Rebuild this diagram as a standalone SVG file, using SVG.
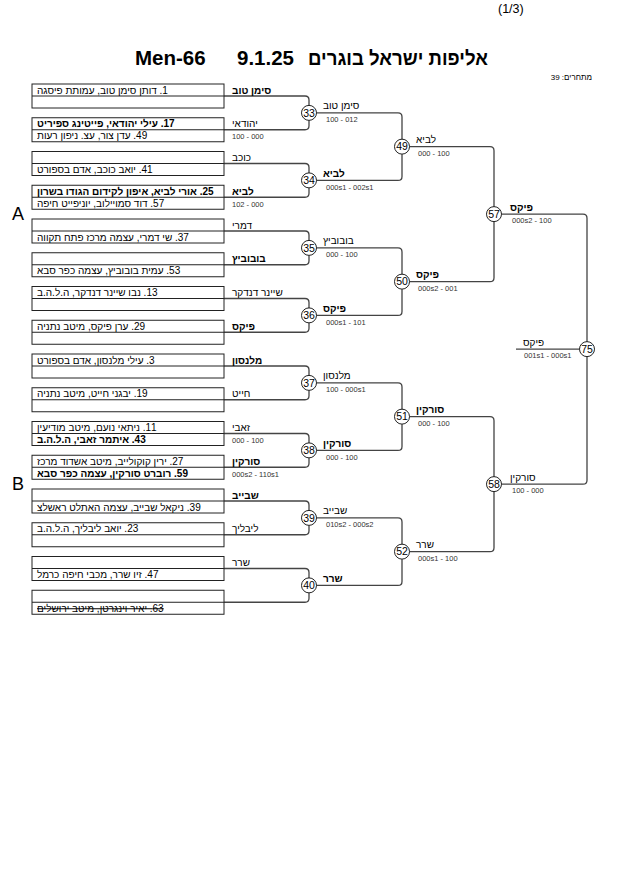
<svg xmlns="http://www.w3.org/2000/svg" width="630" height="891" viewBox="0 0 630 891">
<style>
text{font-family:"Liberation Sans",Arial,sans-serif;fill:#000}
.bx{fill:none;stroke:#222;stroke-width:1}
.dv{stroke:#222;stroke-width:1}
.t{font-size:10px}
.rl{direction:rtl;text-anchor:end}
.rr{direction:rtl;text-anchor:start}
.b{font-weight:bold}
.lb{font-size:10px}
.sc{font-size:7.5px;fill:#333}
.ln{fill:none;stroke:#444;stroke-width:1.3}
.c{fill:#fff;stroke:#222;stroke-width:1}
.cn{font-size:10.5px;text-anchor:middle}
.s{text-decoration:line-through}
</style>
<rect width="630" height="891" fill="#fff"/>
<g id="header">
<text x="498" y="13" style="font-size:12.5px">(1/3)</text>
<text x="135" y="65" class="b" style="font-size:20.5px">Men-66</text>
<text x="237" y="65" class="b" style="font-size:20.5px">9.1.25</text>
<text x="308" y="65" class="b" style="font-size:20px" textLength="180" lengthAdjust="spacingAndGlyphs">אליפות ישראל בוגרים</text>
<text x="592" y="80" class="rr" style="font-size:8px">מתחרים: 39</text>
<text x="12" y="220" style="font-size:18px">A</text>
<text x="12" y="490" style="font-size:18px">B</text>
</g>
<g id="connectors">
<path class="ln" d="M224,96H305Q309,96 309,100V125.75Q309,129.75 305,129.75H224"/>
<path class="ln" d="M224,163.5H305Q309,163.5 309,167.5V193.25Q309,197.25 305,197.25H224"/>
<path class="ln" d="M224,231H305Q309,231 309,235V260.75Q309,264.75 305,264.75H224"/>
<path class="ln" d="M224,298.5H305Q309,298.5 309,302.5V328.25Q309,332.25 305,332.25H224"/>
<path class="ln" d="M224,366H305Q309,366 309,370V395.75Q309,399.75 305,399.75H224"/>
<path class="ln" d="M224,433.5H305Q309,433.5 309,437.5V463.25Q309,467.25 305,467.25H224"/>
<path class="ln" d="M224,501H305Q309,501 309,505V530.75Q309,534.75 305,534.75H224"/>
<path class="ln" d="M224,568.5H305Q309,568.5 309,572.5V598.25Q309,602.25 305,602.25H224"/>
<path class="ln" d="M309,112.875H398Q402,112.875 402,116.875V176.375Q402,180.375 398,180.375H309"/>
<path class="ln" d="M309,247.875H398Q402,247.875 402,251.875V311.375Q402,315.375 398,315.375H309"/>
<path class="ln" d="M309,382.875H398Q402,382.875 402,386.875V446.375Q402,450.375 398,450.375H309"/>
<path class="ln" d="M309,517.875H398Q402,517.875 402,521.875V581.375Q402,585.375 398,585.375H309"/>
<path class="ln" d="M402,146.625H490Q494,146.625 494,150.625V277.625Q494,281.625 490,281.625H402"/>
<path class="ln" d="M402,416.625H490Q494,416.625 494,420.625V547.625Q494,551.625 490,551.625H402"/>
<path class="ln" d="M494,214.125H583Q587,214.125 587,218.125V480.125Q587,484.125 583,484.125H494"/>
<path class="ln" d="M516,349.125H587"/>
</g>
<g id="box1"><rect class="bx" x="32" y="84" width="192" height="24"/><line class="dv" x1="32" y1="96" x2="224" y2="96"/>
<text class="t rl" x="37" y="93.5">1. דותן סימן טוב, עמותת פיסגה</text>
<text class="lb b" x="232" y="93.5">סימן טוב</text></g>
<g id="box2"><rect class="bx" x="32" y="117.75" width="192" height="24"/><line class="dv" x1="32" y1="129.75" x2="224" y2="129.75"/>
<text class="t rl b" x="37" y="127.25">17. עילי יהודאי, פייטינג ספיריט</text>
<text class="t rl" x="37" y="139.25">49. עדן צור, עצ. ניפון רעות</text>
<text class="lb" x="232" y="127.25">יהודאי</text><text class="sc" x="232" y="139">100 - 000</text></g>
<g id="box3"><rect class="bx" x="32" y="151.5" width="192" height="24"/><line class="dv" x1="32" y1="163.5" x2="224" y2="163.5"/>
<text class="t rl" x="37" y="173">41. יואב כוכב, אדם בספורט</text>
<text class="lb" x="232" y="161">כוכב</text></g>
<g id="box4"><rect class="bx" x="32" y="185.25" width="192" height="24"/><line class="dv" x1="32" y1="197.25" x2="224" y2="197.25"/>
<text class="t rl b" x="37" y="194.75">25. אורי לביא, איפון לקידום הגודו בשרון</text>
<text class="t rl" x="37" y="206.75">57. דוד סמויילוב, יוניפייט חיפה</text>
<text class="lb b" x="232" y="194.75">לביא</text><text class="sc" x="232" y="206.5">102 - 000</text></g>
<g id="box5"><rect class="bx" x="32" y="219" width="192" height="24"/><line class="dv" x1="32" y1="231" x2="224" y2="231"/>
<text class="t rl" x="37" y="240.5">37. שי דמרי, עצמה מרכז פתח תקווה</text>
<text class="lb" x="232" y="228.5">דמרי</text></g>
<g id="box6"><rect class="bx" x="32" y="252.75" width="192" height="24"/><line class="dv" x1="32" y1="264.75" x2="224" y2="264.75"/>
<text class="t rl" x="37" y="274.25">53. עמית בובוביץ, עצמה כפר סבא</text>
<text class="lb b" x="232" y="262.25">בובוביץ</text></g>
<g id="box7"><rect class="bx" x="32" y="286.5" width="192" height="24"/><line class="dv" x1="32" y1="298.5" x2="224" y2="298.5"/>
<text class="t rl" x="37" y="296">13. נבו שיינר דנדקר, ה.ל.ה.ב</text>
<text class="lb" x="232" y="296">שיינר דנדקר</text></g>
<g id="box8"><rect class="bx" x="32" y="320.25" width="192" height="24"/><line class="dv" x1="32" y1="332.25" x2="224" y2="332.25"/>
<text class="t rl" x="37" y="329.75">29. ערן פיקס, מיטב נתניה</text>
<text class="lb b" x="232" y="329.75">פיקס</text></g>
<g id="box9"><rect class="bx" x="32" y="354" width="192" height="24"/><line class="dv" x1="32" y1="366" x2="224" y2="366"/>
<text class="t rl" x="37" y="363.5">3. עילי מלנסון, אדם בספורט</text>
<text class="lb b" x="232" y="363.5">מלנסון</text></g>
<g id="box10"><rect class="bx" x="32" y="387.75" width="192" height="24"/><line class="dv" x1="32" y1="399.75" x2="224" y2="399.75"/>
<text class="t rl" x="37" y="397.25">19. יבגני חייט, מיטב נתניה</text>
<text class="lb" x="232" y="397.25">חייט</text></g>
<g id="box11"><rect class="bx" x="32" y="421.5" width="192" height="24"/><line class="dv" x1="32" y1="433.5" x2="224" y2="433.5"/>
<text class="t rl" x="37" y="431">11. ניתאי נועם, מיטב מודיעין</text>
<text class="t rl b" x="37" y="443">43. איתמר זאבי, ה.ל.ה.ב</text>
<text class="lb" x="232" y="431">זאבי</text><text class="sc" x="232" y="442.75">000 - 100</text></g>
<g id="box12"><rect class="bx" x="32" y="455.25" width="192" height="24"/><line class="dv" x1="32" y1="467.25" x2="224" y2="467.25"/>
<text class="t rl" x="37" y="464.75">27. ירין קוקולייב, מיטב אשדוד מרכז</text>
<text class="t rl b" x="37" y="476.75">59. רוברט סורקין, עצמה כפר סבא</text>
<text class="lb b" x="232" y="464.75">סורקין</text><text class="sc" x="232" y="476.5">000s2 - 110s1</text></g>
<g id="box13"><rect class="bx" x="32" y="489" width="192" height="24"/><line class="dv" x1="32" y1="501" x2="224" y2="501"/>
<text class="t rl" x="37" y="510.5">39. ניקאל שבייב, עצמה האתלט ראשלצ</text>
<text class="lb b" x="232" y="498.5">שבייב</text></g>
<g id="box14"><rect class="bx" x="32" y="522.75" width="192" height="24"/><line class="dv" x1="32" y1="534.75" x2="224" y2="534.75"/>
<text class="t rl" x="37" y="532.25">23. יואב ליבליך, ה.ל.ה.ב</text>
<text class="lb" x="232" y="532.25">ליבליך</text></g>
<g id="box15"><rect class="bx" x="32" y="556.5" width="192" height="24"/><line class="dv" x1="32" y1="568.5" x2="224" y2="568.5"/>
<text class="t rl" x="37" y="578">47. זיו שרר, מכבי חיפה כרמל</text>
<text class="lb" x="232" y="566">שרר</text></g>
<g id="box16"><rect class="bx" x="32" y="590.25" width="192" height="24"/><line class="dv" x1="32" y1="602.25" x2="224" y2="602.25"/>
<text class="t rl s" x="37" y="611.75">63. יאיר וינגרטן, מיטב ירושלים</text></g>
<g id="m33"><circle class="c" cx="309" cy="112.875" r="7.5"/><text class="cn" x="309" y="116.6">33</text><text class="lb" x="323" y="109.4">סימן טוב</text><text class="sc" x="326" y="122">100 - 012</text></g>
<g id="m34"><circle class="c" cx="309" cy="180.375" r="7.5"/><text class="cn" x="309" y="184.1">34</text><text class="lb b" x="323" y="176.9">לביא</text><text class="sc" x="326" y="189.5">000s1 - 002s1</text></g>
<g id="m35"><circle class="c" cx="309" cy="247.875" r="7.5"/><text class="cn" x="309" y="251.6">35</text><text class="lb" x="323" y="244.4">בובוביץ</text><text class="sc" x="326" y="257">000 - 100</text></g>
<g id="m36"><circle class="c" cx="309" cy="315.375" r="7.5"/><text class="cn" x="309" y="319.1">36</text><text class="lb b" x="323" y="311.9">פיקס</text><text class="sc" x="326" y="324.5">000s1 - 101</text></g>
<g id="m37"><circle class="c" cx="309" cy="382.875" r="7.5"/><text class="cn" x="309" y="386.6">37</text><text class="lb" x="323" y="379.4">מלנסון</text><text class="sc" x="326" y="392">100 - 000s1</text></g>
<g id="m38"><circle class="c" cx="309" cy="450.375" r="7.5"/><text class="cn" x="309" y="454.1">38</text><text class="lb b" x="323" y="446.9">סורקין</text><text class="sc" x="326" y="459.5">000 - 100</text></g>
<g id="m39"><circle class="c" cx="309" cy="517.875" r="7.5"/><text class="cn" x="309" y="521.6">39</text><text class="lb" x="323" y="514.4">שבייב</text><text class="sc" x="326" y="527">010s2 - 000s2</text></g>
<g id="m40"><circle class="c" cx="309" cy="585.375" r="7.5"/><text class="cn" x="309" y="589.1">40</text><text class="lb b" x="323" y="581.9">שרר</text></g>
<g id="m49"><circle class="c" cx="402" cy="146.625" r="7.5"/><text class="cn" x="402" y="150.3">49</text><text class="lb" x="416" y="143.1">לביא</text><text class="sc" x="418" y="155.7">000 - 100</text></g>
<g id="m50"><circle class="c" cx="402" cy="281.625" r="7.5"/><text class="cn" x="402" y="285.3">50</text><text class="lb b" x="416" y="278.1">פיקס</text><text class="sc" x="418" y="290.7">000s2 - 001</text></g>
<g id="m51"><circle class="c" cx="402" cy="416.625" r="7.5"/><text class="cn" x="402" y="420.3">51</text><text class="lb b" x="416" y="413.1">סורקין</text><text class="sc" x="418" y="425.7">000 - 100</text></g>
<g id="m52"><circle class="c" cx="402" cy="551.625" r="7.5"/><text class="cn" x="402" y="555.3">52</text><text class="lb" x="416" y="548.1">שרר</text><text class="sc" x="418" y="560.7">000s1 - 100</text></g>
<g id="m57"><circle class="c" cx="494" cy="214.125" r="7.5"/><text class="cn" x="494" y="217.8">57</text><text class="lb b" x="510" y="210.6">פיקס</text><text class="sc" x="512" y="223.2">000s2 - 100</text></g>
<g id="m58"><circle class="c" cx="494" cy="484.125" r="7.5"/><text class="cn" x="494" y="487.8">58</text><text class="lb" x="510" y="480.6">סורקין</text><text class="sc" x="512" y="493.2">100 - 000</text></g>
<g id="m75"><circle class="c" cx="587" cy="349.125" r="7.5"/><text class="cn" x="587" y="352.8">75</text><text class="lb" x="523" y="345.6">פיקס</text><text class="sc" x="524" y="358.2">001s1 - 000s1</text></g>
</svg>
